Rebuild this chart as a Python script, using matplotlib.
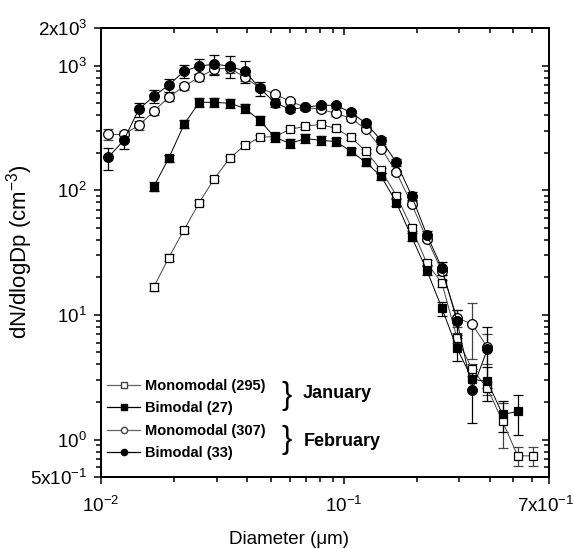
import matplotlib
matplotlib.use("Agg")
import matplotlib.pyplot as plt
from matplotlib.lines import Line2D
from matplotlib.ticker import FixedLocator, LogLocator, NullFormatter

plt.rcParams['font.family'] = ['Liberation Sans', 'DejaVu Sans']
plt.rcParams['mathtext.fontset'] = 'custom'
plt.rcParams['mathtext.rm'] = 'Liberation Sans'
plt.rcParams['mathtext.it'] = 'Liberation Sans:italic'
plt.rcParams['mathtext.bf'] = 'Liberation Sans:bold'

# particle diameters (um), SMPS channels
diam = [0.0107, 0.0124, 0.0143, 0.0165, 0.0190, 0.0220, 0.0254, 0.0293, 0.0339,
        0.0391, 0.0451, 0.0521, 0.0602, 0.0695, 0.0803, 0.0927, 0.1071, 0.1236,
        0.1428, 0.1649, 0.1904, 0.2199, 0.2539, 0.2932, 0.3386, 0.3910, 0.4515,
        0.5214, 0.6021]

# January monomodal (295) - starts at channel 3
jan_mono = [16.7, 28.7, 48.2, 79.5, 124, 180, 229, 265, 270, 308, 325, 338, 313,
            265, 205, 144, 90.5, 50, 26.1, 18, 6.5, 3.66, 2.58, 1.40, 0.74, 0.74]
jan_mono_err = [1.2, 1.8, 2.5, 4, 6, 8, 10, 11, 11, 12, 13, 13, 12, 10, 8, 6, 4,
                2.5, 1.5, 1.2, 0.6, 0.4, 0.3, 0.55, 0.13, 0.13]

# January bimodal (27) - starts at channel 3
jan_bi = [107, 180, 338, 507, 507, 498, 454, 363, 265, 237, 260, 251, 246, 205,
          167, 129, 79.5, 42.3, 22.9, 11.3, 5.4, 3.04, 2.93, 1.59, 1.68]
jan_bi_err = [9, 12, 25, 40, 45, 45, 40, 30, 22, 20, 20, 20, 18, 14, 11, 8, 5, 3,
              2, 1.5, 1.1, 0.5, 0.9, 0.45, 0.6]

# February monomodal (307)
feb_mono = [280, 280, 331, 429, 557, 683, 806, 936, 953, 806, 660, 589, 517, 462,
            445, 414, 377, 308, 216, 139, 78, 40.8, 22.5, 9.5, 8.4, 5.5]
feb_mono_err = [28, 20, 25, 30, 35, 42, 55, 75, 76, 56, 40, 30, 25, 20, 18, 17, 15,
                12, 9, 6, 3.5, 2, 1.5, 1.5, 4.0, 1.5]

# February bimodal (33)
feb_bi = [183, 251, 445, 567, 696, 901, 989, 1026, 989, 901, 658, 503, 445, 462,
          480, 480, 421, 344, 251, 167, 90.5, 44, 23.8, 8.9, 2.5, 5.3]
feb_bi_err = [37, 35, 58, 68, 77, 108, 138, 185, 200, 180, 86, 35, 22, 23, 24, 24,
              21, 17, 15, 12, 6.3, 3.5, 2.9, 2.0, 1.15, 2.7]

labels = ["Monomodal (295)", "Bimodal (27)", "Monomodal (307)", "Bimodal (33)"]

fig = plt.figure(figsize=(5.74, 5.49), dpi=100)
ax = fig.add_axes([0.176, 0.131, 0.780, 0.818])

series = [
    (diam[3:3 + len(jan_mono)], jan_mono, jan_mono_err, 's', 'white', '#444444', 6),
    (diam[3:3 + len(jan_bi)], jan_bi, jan_bi_err, 's', 'black', 'black', 6),
    (diam[:len(feb_mono)], feb_mono, feb_mono_err, 'o', 'white', '#444444', 7),
    (diam[:len(feb_bi)], feb_bi, feb_bi_err, 'o', 'black', 'black', 7),
]
for x, y, e, m, fc, lc, ms in series:
    ax.errorbar(x, y, yerr=e, marker=m, ms=ms, mfc=fc, mec='black', mew=0.9,
                color=lc, lw=0.7, ecolor=lc, elinewidth=0.9, capsize=3.5,
                capthick=0.9)

ax.set_xscale('log')
ax.set_yscale('log')
ax.set_xlim(0.01, 0.7)
ax.set_ylim(0.5, 2000)

ax.xaxis.set_major_locator(FixedLocator([0.01, 0.1, 0.7]))
ax.set_xticklabels([r'$\mathregular{10^{-2}}$', r'$\mathregular{10^{-1}}$', ''])
ax.xaxis.set_minor_locator(LogLocator(base=10, subs=range(2, 10), numticks=20))
ax.xaxis.set_minor_formatter(NullFormatter())

ax.yaxis.set_major_locator(FixedLocator([0.5, 1, 10, 100, 1000, 2000]))
ax.set_yticklabels([r'$\mathregular{5x10^{-1}}$', r'$\mathregular{10^{0}}$',
                    r'$\mathregular{10^{1}}$', r'$\mathregular{10^{2}}$',
                    r'$\mathregular{10^{3}}$', r'$\mathregular{2x10^{3}}$'])
ax.yaxis.set_minor_locator(LogLocator(base=10, subs=range(2, 10), numticks=20))
ax.yaxis.set_minor_formatter(NullFormatter())

ax.tick_params(which='both', direction='out', width=1.1, labelsize=13.5)
ax.tick_params(which='major', length=5)
ax.tick_params(which='minor', length=3.5)
ax.tick_params(axis='x', pad=8.5)
ax.tick_params(axis='y', pad=5)
for s in ax.spines.values():
    s.set_linewidth(1.3)

# last x tick label, shifted in so it stays inside the figure
ax.annotate(r'$\mathregular{7x10^{-1}}$', xy=(0.7, 0), xycoords=('data', 'axes fraction'),
            xytext=(-2.5, -13.5), textcoords='offset points', ha='center', va='top',
            fontsize=13.5)

# mirrored inward ticks on top and right
axt = ax.twiny()
axt.set_xscale('log')
axt.set_xlim(ax.get_xlim())
axt.xaxis.set_major_locator(FixedLocator([0.01, 0.1, 0.7]))
axt.xaxis.set_minor_locator(LogLocator(base=10, subs=range(2, 10), numticks=20))
axt.tick_params(which='both', direction='in', width=1.1, labeltop=False)
axt.tick_params(which='major', length=5)
axt.tick_params(which='minor', length=3.5)
axr = ax.twinx()
axr.set_yscale('log')
axr.set_ylim(ax.get_ylim())
axr.yaxis.set_major_locator(FixedLocator([0.5, 1, 10, 100, 1000, 2000]))
axr.yaxis.set_minor_locator(LogLocator(base=10, subs=range(2, 10), numticks=20))
axr.tick_params(which='both', direction='in', width=1.1, labelright=False)
axr.tick_params(which='major', length=5)
axr.tick_params(which='minor', length=3.5)
for a in (axt, axr):
    for s in a.spines.values():
        s.set_linewidth(1.3)

ax.set_xlabel('Diameter (μm)', fontsize=13.5)
ax.xaxis.set_label_coords(0.419, -0.12)
ax.set_ylabel(r'dN/dlogDp (cm$\mathregular{^{-3}}$)', fontsize=16)
ax.yaxis.set_label_coords(-0.147, 0.503)

handles = [
    Line2D([], [], marker='s', ms=4, mfc='white', mec='#444444', color='#666666', lw=0.9),
    Line2D([], [], marker='s', ms=4, mfc='black', mec='black', color='black', lw=0.9),
    Line2D([], [], marker='o', ms=4.5, mfc='white', mec='#444444', color='#666666', lw=0.9),
    Line2D([], [], marker='o', ms=4.5, mfc='black', mec='black', color='black', lw=0.9),
]
ax.legend(handles, labels, loc='upper left', bbox_to_anchor=(0.013, 0.219),
          frameon=False, borderpad=0, borderaxespad=0, handlelength=2.3,
          handletextpad=0.35, labelspacing=0.58,
          prop={'weight': 'bold', 'size': 10.5})

fig.text(0.499, 1 - 396 / 549, '}', fontsize=22, va='center', ha='center')
fig.text(0.499, 1 - 440 / 549, '}', fontsize=22, va='center', ha='center')
fig.text(0.527, 1 - 394 / 549, 'January', fontsize=13, fontweight='bold', va='center')
fig.text(0.530, 1 - 441 / 549, 'February', fontsize=13, fontweight='bold', va='center')

fig.savefig('out.png', dpi=100)
